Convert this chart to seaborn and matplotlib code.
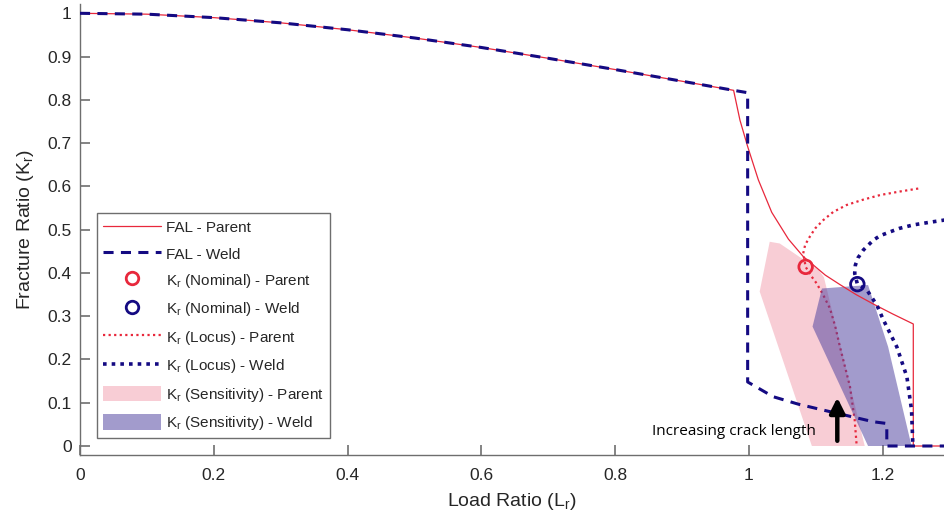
import numpy as np
import pandas as pd
import matplotlib
matplotlib.use("Agg")
import matplotlib.pyplot as plt
import seaborn as sns
from matplotlib.lines import Line2D
from matplotlib.patches import Patch

# ---------------- data ----------------
fal_parent_x = [0, 0.1, 0.2, 0.3, 0.4, 0.5, 0.6, 0.7, 0.8, 0.9, 0.977, 0.9865, 0.998,
                1.014, 1.034, 1.059, 1.081, 1.114, 1.136, 1.16, 1.186, 1.215, 1.2456, 1.2456, 1.35]
fal_parent_y = [1.0, 0.998, 0.990, 0.978, 0.962, 0.943, 0.921, 0.896, 0.870, 0.843, 0.822, 0.753, 0.692,
                0.615, 0.540, 0.478, 0.438, 0.395, 0.373, 0.350, 0.328, 0.305, 0.282, 0.0, 0.0]

fal_weld_x = [0, 0.1, 0.2, 0.3, 0.4, 0.5, 0.6, 0.7, 0.8, 0.9, 0.977, 0.998, 0.998,
              1.036, 1.073, 1.111, 1.15, 1.186, 1.206, 1.206, 1.35]
fal_weld_y = [1.0, 0.998, 0.990, 0.978, 0.962, 0.943, 0.921, 0.896, 0.870, 0.843, 0.822, 0.8165, 0.148,
              0.114, 0.097, 0.083, 0.069, 0.056, 0.052, 0.0, 0.0]

nominal_parent = (1.0847, 0.414)
nominal_weld = (1.162, 0.374)

locus_parent_x = [1.253, 1.225, 1.196, 1.17, 1.146, 1.126, 1.111, 1.099, 1.091, 1.084, 1.081,
                  1.0847, 1.092, 1.101, 1.111, 1.121, 1.129, 1.136, 1.151, 1.158, 1.161]
locus_parent_y = [0.595, 0.588, 0.58, 0.569, 0.557, 0.541, 0.522, 0.503, 0.484, 0.465, 0.445,
                  0.414, 0.395, 0.376, 0.349, 0.318, 0.276, 0.229, 0.137, 0.060, 0.0]

locus_weld_x = [1.30, 1.27, 1.2456, 1.225, 1.211, 1.196, 1.186, 1.171, 1.163, 1.159, 1.158,
                1.162, 1.176, 1.191, 1.201, 1.221, 1.236, 1.243, 1.245]
locus_weld_y = [0.524, 0.517, 0.511, 0.503, 0.495, 0.486, 0.476, 0.453, 0.435, 0.418, 0.399,
                0.374, 0.361, 0.326, 0.291, 0.229, 0.160, 0.083, 0.0]

sens_parent_x = [1.031, 1.046, 1.104, 1.112, 1.173, 1.094, 1.016]
sens_parent_y = [0.472, 0.468, 0.407, 0.39, 0.0, 0.0, 0.357]

sens_weld_x = [1.109, 1.178, 1.208, 1.243, 1.178, 1.095]
sens_weld_y = [0.364, 0.372, 0.229, 0.0, 0.0, 0.276]

x_ticks = [0, 0.2, 0.4, 0.6, 0.8, 1, 1.2]
x_tick_labels = ["0", "0.2", "0.4", "0.6", "0.8", "1", "1.2"]
y_ticks = [0, 0.1, 0.2, 0.3, 0.4, 0.5, 0.6, 0.7, 0.8, 0.9, 1]
y_tick_labels = ["0", "0.1", "0.2", "0.3", "0.4", "0.5", "0.6", "0.7", "0.8", "0.9", "1"]

legend_labels = ["FAL - Parent", "FAL - Weld",
                 "K$_r$ (Nominal) - Parent", "K$_r$ (Nominal) - Weld",
                 "K$_r$ (Locus) - Parent", "K$_r$ (Locus) - Weld",
                 "K$_r$ (Sensitivity) - Parent", "K$_r$ (Sensitivity) - Weld"]

# ---------------- styling ----------------
sns.set_style("ticks", {"xtick.direction": "in", "ytick.direction": "in"})
plt.rcParams["font.family"] = ["Liberation Sans", "DejaVu Sans"]
plt.rcParams["mathtext.default"] = "regular"

RED = "#E8283C"
BLUE = "#140A82"
PINK = "#F8CDD5"
PURPLE = (0.30, 0.25, 0.62)
GRAY = "#6e6e6e"
TXT = "#262626"

fig = plt.figure(figsize=(9.44, 5.20), dpi=100)
ax = fig.add_axes([80 / 944, 65 / 520, 864 / 944, 451 / 520])

# sensitivity fills
ax.fill(sens_parent_x, sens_parent_y, color=PINK, lw=0, zorder=1)

# red locus under purple fill
sns.lineplot(x=locus_parent_x, y=locus_parent_y, sort=False, estimator=None, ax=ax,
             color=RED, lw=1.6, zorder=2)
ax.lines[-1].set_dashes((1.0, 1.5))

ax.fill(sens_weld_x, sens_weld_y, color=PURPLE, alpha=0.52, lw=0, zorder=3)

# FAL curves
sns.lineplot(x=fal_parent_x, y=fal_parent_y, sort=False, estimator=None, ax=ax,
             color=RED, lw=0.9, zorder=4)
sns.lineplot(x=fal_weld_x, y=fal_weld_y, sort=False, estimator=None, ax=ax,
             color=BLUE, lw=2.2, zorder=5)
ax.lines[-1].set_dashes((3.3, 2.4))

sns.lineplot(x=locus_weld_x, y=locus_weld_y, sort=False, estimator=None, ax=ax,
             color=BLUE, lw=2.6, zorder=5)
ax.lines[-1].set_dashes((1.0, 1.4))

# nominal points
nom = pd.DataFrame({"x": [nominal_parent[0], nominal_weld[0]],
                    "y": [nominal_parent[1], nominal_weld[1]],
                    "s": ["Parent", "Weld"]})
sns.scatterplot(data=nom, x="x", y="y", hue="s", palette={"Parent": RED, "Weld": BLUE},
                ax=ax, s=95, linewidths=2.0, marker="o", legend=False, zorder=6)
ax.collections[-1].set_facecolor("none")
ax.collections[-1].set_edgecolors([RED, BLUE])

# arrow and annotation
ax.annotate("", xy=(1.132, 0.112), xytext=(1.132, 0.012),
            arrowprops=dict(arrowstyle="-|>,head_length=0.9,head_width=0.45",
                            color="black", lw=3.2, shrinkA=0, shrinkB=0), zorder=7)
ax.text(0.855, 0.033, "Increasing crack length", fontsize=11, family="Open Sans",
        color="black", va="center", ha="left", zorder=7)

# axes
ax.set_xlim(0, 1.2915)
ax.set_ylim(-0.0208, 1.0215)
ax.set_xticks(x_ticks)
ax.set_xticklabels(x_tick_labels)
ax.set_yticks(y_ticks)
ax.set_yticklabels(y_tick_labels)
for side in ["top", "right"]:
    ax.spines[side].set_visible(False)
for side in ["left", "bottom"]:
    ax.spines[side].set_color(GRAY)
    ax.spines[side].set_linewidth(1.0)
ax.xaxis.set_tick_params(which="major", bottom=True, top=False, direction="in",
                         length=7, width=1.2, color=GRAY, labelsize=12.5,
                         labelcolor=TXT, pad=9)
ax.yaxis.set_tick_params(which="major", left=True, right=False, direction="in",
                         length=7, width=1.2, color=GRAY, labelsize=12.5,
                         labelcolor=TXT, pad=6)
for t in ax.xaxis.get_major_ticks() + ax.yaxis.get_major_ticks():
    t.tick1line.set_zorder(10)
    t.tick1line.set_visible(True)

ax.set_xlabel("Load Ratio (L$_r$)", fontsize=14, color=TXT, labelpad=6)
ax.set_ylabel("Fracture Ratio (K$_r$)", fontsize=14, color=TXT, labelpad=8)

# legend
handles = [
    Line2D([], [], color=RED, lw=0.9),
    Line2D([], [], color=BLUE, lw=2.2, dashes=(3.3, 2.4)),
    Line2D([], [], color=RED, lw=0, marker="o", markersize=9, markerfacecolor="none",
           markeredgewidth=2.0),
    Line2D([], [], color=BLUE, lw=0, marker="o", markersize=9, markerfacecolor="none",
           markeredgewidth=2.0),
    Line2D([], [], color=RED, lw=1.6, dashes=(1.0, 1.5)),
    Line2D([], [], color=BLUE, lw=2.6, dashes=(1.0, 1.4)),
    Patch(facecolor=PINK, edgecolor="none"),
    Patch(facecolor=PURPLE, alpha=0.52, edgecolor="none"),
]
leg = ax.legend(handles, legend_labels, loc="lower left",
                bbox_to_anchor=(17 / 864, 17 / 451), fontsize=11,
                handlelength=3.8, handleheight=1.2, handletextpad=0.3, labelspacing=0.68,
                borderpad=0.4, borderaxespad=0, fancybox=False, frameon=True,
                edgecolor=GRAY, framealpha=1)
leg.get_frame().set_linewidth(1.0)
for t in leg.get_texts():
    t.set_color(TXT)

fig.savefig("out.png", dpi=100)
